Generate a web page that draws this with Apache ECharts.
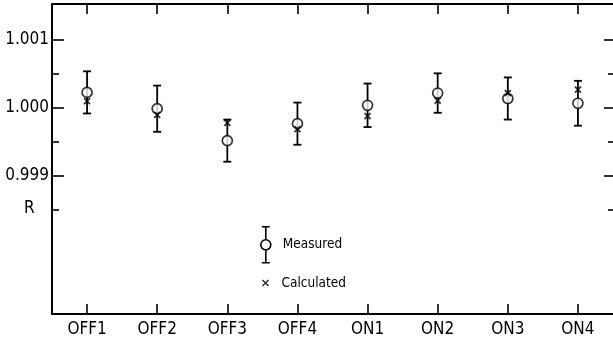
<!DOCTYPE html>
<html>
<head>
<meta charset="utf-8">
<script src="https://cdn.jsdelivr.net/npm/echarts@6/dist/echarts.min.js"></script>
<style>
  html, body { margin: 0; padding: 0; background: #fff; }
  #main { width: 613px; height: 341px; }
</style>
</head>
<body>
<div id="main"></div>
<script>
const categories = ["OFF1", "OFF2", "OFF3", "OFF4", "ON1", "ON2", "ON3", "ON4"];
const measured = [1.00023, 0.99999, 0.99952, 0.99977, 1.00004, 1.00022, 1.00014, 1.00007];
const measuredErr = [0.00031, 0.00034, 0.00031, 0.00031, 0.00032, 0.00029, 0.00031, 0.00033];
const calculated = [1.00010, 0.99990, 0.99978, 0.99969, 0.99988, 1.00011, 1.00022, 1.00027];
const majorTicks = [0.999, 1.000, 1.001];
const minorTicks = [0.9985, 0.9995, 1.0005];

const FONT = '"DejaVu Sans Condensed", "Liberation Sans Narrow", sans-serif';
const yMin = 0.99697, yMax = 1.00153;

const chartDom = document.getElementById("main");
const myChart = echarts.init(chartDom);

// 轴的公共部分
const yBase = (pos) => ({
  type: "value",
  position: pos,
  min: yMin,
  max: yMax,
  splitLine: { show: false },
  axisLine: { show: false },
  axisLabel: { show: false },
});
const tick = (len, values) => ({
  show: true,
  inside: true,
  length: len,
  customValues: values,
  lineStyle: { color: "#000", width: 1.6 },
});

const errorData = categories.map((c, i) => [i, measured[i] - measuredErr[i], measured[i] + measuredErr[i]]);

const option = {
  animation: false,
  backgroundColor: "#fff",
  grid: { left: 52, right: 0, top: 4, bottom: 27 },
  xAxis: [
    {
      type: "category",
      data: categories,
      position: "bottom",
      boundaryGap: true,
      axisLine: { show: true, lineStyle: { color: "#000", width: 2 } },
      axisTick: { show: true, alignWithLabel: true, inside: true, length: 10, lineStyle: { color: "#000", width: 1.6 } },
      axisLabel: { color: "#000", fontFamily: FONT, fontSize: 17, margin: 7 },
    },
    {
      type: "category",
      data: categories,
      position: "top",
      boundaryGap: true,
      axisLine: { show: true, lineStyle: { color: "#000", width: 2 } },
      axisTick: { show: true, alignWithLabel: true, inside: true, length: 10, lineStyle: { color: "#000", width: 1.6 } },
      axisLabel: { show: false },
    },
  ],
  yAxis: [
    Object.assign(yBase("left"), {
      axisLine: { show: true, lineStyle: { color: "#000", width: 2 } },
      axisTick: tick(12, majorTicks),
      axisLabel: {
        show: true,
        customValues: majorTicks,
        formatter: (v) => v.toFixed(3),
        color: "#000",
        fontFamily: FONT,
        fontSize: 17,
        margin: 3,
      },
    }),
    Object.assign(yBase("left"), { axisTick: tick(7, minorTicks) }),
    Object.assign(yBase("right"), { axisTick: tick(9, majorTicks) }),
    Object.assign(yBase("right"), { axisTick: tick(5, minorTicks) }),
  ],
  legend: [
    {
      data: ["Measured"],
      orient: "vertical",
      left: 255,
      top: 221,
      itemWidth: 10,
      itemHeight: 36,
      icon: "path://M1 0L9 0M5 0L5 13M5 23L5 36M1 36L9 36M5 13A5 5 0 1 1 5 23A5 5 0 1 1 5 13Z",
      itemStyle: { color: "#fff", borderColor: "#000", borderWidth: 1.6 },
      textStyle: { color: "#000", fontFamily: FONT, fontSize: 13.5, padding: [0, 0, 0, 7] },
    },
    {
      data: ["Calculated"],
      orient: "vertical",
      left: 255,
      top: 271,
      itemWidth: 6,
      itemHeight: 6,
      icon: "path://M0 0L6 6M6 0L0 6",
      itemStyle: { color: "none", borderColor: "#000", borderWidth: 1.6 },
      textStyle: { color: "#000", fontFamily: FONT, fontSize: 13.5, padding: [0, 0, 0, 8] },
    },
  ],
  graphic: [
    {
      type: "text",
      left: 24,
      top: 200,
      style: { text: "R", fill: "#000", font: "17px " + FONT },
    },
  ],
  series: [
    {
      name: "Measured",
      type: "custom",
      xAxisIndex: 0,
      yAxisIndex: 0,
      data: errorData,
      z: 2,
      renderItem: (params, api) => {
        const lo = api.coord([api.value(0), api.value(1)]);
        const hi = api.coord([api.value(0), api.value(2)]);
        const w = 4;
        const style = { stroke: "#000", lineWidth: 1.8 };
        return {
          type: "group",
          children: [
            { type: "line", shape: { x1: lo[0], y1: lo[1], x2: hi[0], y2: hi[1] }, style },
            { type: "line", shape: { x1: lo[0] - w, y1: lo[1], x2: lo[0] + w, y2: lo[1] }, style },
            { type: "line", shape: { x1: hi[0] - w, y1: hi[1], x2: hi[0] + w, y2: hi[1] }, style },
          ],
        };
      },
    },
    {
      name: "Measured",
      type: "scatter",
      xAxisIndex: 0,
      yAxisIndex: 0,
      data: measured,
      symbol: "circle",
      symbolSize: 10,
      z: 3,
      itemStyle: { color: "#fff", borderColor: "#000", borderWidth: 1.7 },
    },
    {
      name: "Calculated",
      type: "scatter",
      xAxisIndex: 0,
      yAxisIndex: 0,
      data: calculated,
      symbol: "path://M0 0L6 6M6 0L0 6",
      symbolSize: 6,
      z: 4,
      itemStyle: { color: "none", borderColor: "#000", borderWidth: 1.8 },
    },
  ],
};

myChart.setOption(option);
</script>
</body>
</html>
